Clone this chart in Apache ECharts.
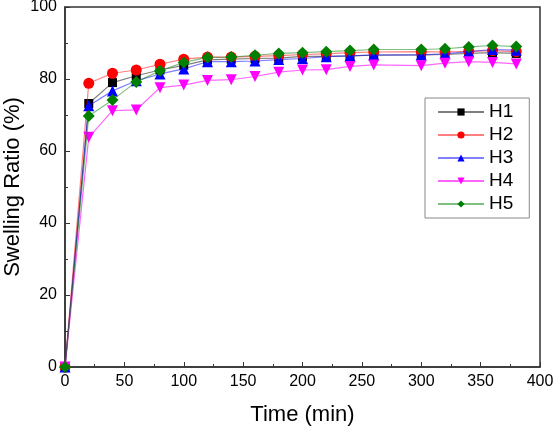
<!DOCTYPE html>
<html><head><meta charset="utf-8">
<script src="https://cdn.jsdelivr.net/npm/echarts@6/dist/echarts.min.js"></script>
<style>html,body{margin:0;padding:0;background:#fff}#c{width:555px;height:428px}</style>
</head><body><div id="c"></div>
<script>
const times = [0,20,40,60,80,100,120,140,160,180,200,220,240,260,300,320,340,360,380];
const H1 = [0,73.2,79.0,80.9,82.5,83.8,85.3,85.5,85.7,85.8,86.3,86.3,86.4,86.6,86.7,86.8,87.1,87.3,87.1];
const H2 = [0,78.8,81.6,82.5,84.1,85.5,86.1,86.1,86.3,86.5,86.8,87.0,87.3,87.5,87.6,87.5,87.7,87.9,87.6];
const H3 = [0,72.6,76.7,79.5,81.4,82.8,84.8,84.8,85.0,85.4,85.7,86.2,86.4,86.7,86.7,87.0,87.6,88.2,88.0];
const H4 = [0,63.8,71.2,71.4,77.6,78.3,79.6,79.8,80.7,81.9,82.5,82.6,83.5,83.9,83.7,84.4,84.8,84.6,84.2];
const H5 = [0,69.7,74.2,79.2,82.3,84.6,86.0,86.1,86.6,87.1,87.3,87.6,87.9,88.2,88.2,88.4,88.9,89.3,89.0];
const seriesNames = ['H1','H2','H3','H4','H5'];
const seriesData = [H1,H2,H3,H4,H5];
const markerColors = ['#000000','#ff0000','#0000ff','#ff00ff','#008000'];
const lineColors = ['rgba(0,0,0,0.5)','rgba(255,0,0,0.5)','rgba(0,0,255,0.5)','rgba(255,0,255,0.6)','rgba(0,128,0,0.5)'];
const symbols = ['rect','circle','triangle','triangle','diamond'];
const symbolSizes = [9,11,11,11,12];
const rotations = [0,0,0,180,0];
const font = 'Liberation Sans, Arial, sans-serif';

const chart = echarts.init(document.getElementById('c'));
chart.setOption({
  animation:false,
  backgroundColor:'#fff',
  grid:{left:65,right:15,top:7,bottom:61,containLabel:false,outerBoundsMode:'none',
    show:true,borderColor:'#333',borderWidth:1.5,backgroundColor:'transparent'},
  xAxis:{type:'value',min:0,max:400,interval:50,
    name:'Time (min)',nameLocation:'middle',nameGap:37,nameMoveOverlap:false,
    nameTextStyle:{fontFamily:font,fontSize:22,color:'#000'},
    axisLine:{lineStyle:{color:'#333',width:1.5}},
    axisTick:{inside:true,length:5,lineStyle:{color:'#333'}},
    minorTick:{show:true,splitNumber:2,length:3,lineStyle:{color:'#333'}},
    axisLabel:{fontFamily:font,fontSize:16,color:'#000',margin:7},
    splitLine:{show:false}},
  yAxis:{type:'value',min:0,max:100,interval:20,
    name:'Swelling Ratio (%)',nameLocation:'middle',nameGap:41,nameMoveOverlap:false,
    nameTextStyle:{fontFamily:font,fontSize:22,color:'#000'},
    axisLine:{lineStyle:{color:'#333',width:1.5}},
    axisTick:{inside:true,length:5,lineStyle:{color:'#333'}},
    minorTick:{show:true,splitNumber:2,length:3,lineStyle:{color:'#333'}},
    axisLabel:{fontFamily:font,fontSize:16,color:'#000',margin:8},
    splitLine:{show:false}},
  legend:{orient:'vertical',left:425,top:98,padding:[4,16,4,12],
    itemWidth:46,itemHeight:9,itemGap:3,
    borderColor:'#888',borderWidth:1,
    textStyle:{fontFamily:font,fontSize:19,lineHeight:20,color:'#000'},
    data:seriesNames},
  series: seriesNames.map((n,i)=>({
    name:n,type:'line',
    data: times.map((t,j)=>[t,seriesData[i][j]]),
    symbol:symbols[i],symbolSize:symbolSizes[i],symbolRotate:rotations[i],
    showAllSymbol:true,
    itemStyle:{color:markerColors[i]},
    lineStyle:{color:lineColors[i],width:1.2},
    z: 2+i
  }))
});
</script></body></html>
